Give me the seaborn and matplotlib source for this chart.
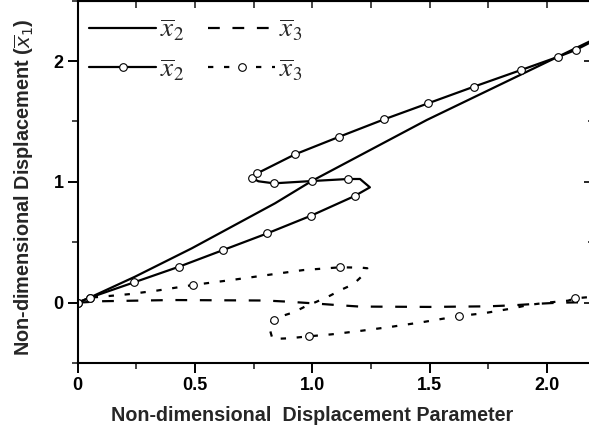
import numpy as np
import pandas as pd
import matplotlib
matplotlib.use("Agg")
import matplotlib.pyplot as plt
from matplotlib.font_manager import FontProperties
from matplotlib.ticker import MultipleLocator, FixedLocator, NullFormatter
import seaborn as sns

# ---------------- data ----------------
# x2 (no markers, solid)
x2a_p = [0.0, 0.06, 0.244, 0.486, 0.841, 0.997, 1.487, 2.2]
x2a_v = [0.0, 0.05, 0.215, 0.45, 0.823, 1.007, 1.512, 2.18]

# x3 (no markers, dashed)
x3a_p = [0.0, 0.05, 0.1, 0.4, 0.8, 0.9, 1.0, 1.1, 1.2, 1.5, 1.75, 1.85, 1.95, 2.05, 2.2]
x3a_v = [0.0, 0.006, 0.012, 0.022, 0.018, 0.008, -0.005, -0.019, -0.032, -0.035, -0.03, -0.022, -0.01, 0.0, 0.005]

# x2 (with markers, solid S-curve)
x2b_p = [0.0, 0.052, 0.241, 0.432, 0.62, 0.808, 0.994, 1.18, 1.245, 1.203, 1.153, 0.997,
         0.836, 0.77, 0.741, 0.765, 0.926, 1.115, 1.306, 1.494, 1.688, 1.889, 2.048, 2.122, 2.2]
x2b_v = [0.0, 0.042, 0.169, 0.298, 0.436, 0.574, 0.72, 0.883, 0.955, 1.024, 1.024, 1.007,
         0.988, 1.005, 1.035, 1.071, 1.228, 1.374, 1.518, 1.651, 1.788, 1.926, 2.036, 2.092, 2.17]
x2b_marks = [0, 1, 2, 3, 4, 5, 6, 7, 10, 11, 12, 14, 15, 16, 17, 18, 19, 20, 21, 22, 23]

# x3 (with markers, dotted S-curve)
x3b_p = [0.0, 0.052, 0.216, 0.337, 0.493, 0.656, 0.841, 0.961, 1.118, 1.21, 1.234,
         1.224, 1.174, 1.127, 1.075, 1.018, 0.968, 0.919, 0.862, 0.836, 0.812, 0.83,
         0.898, 0.987, 1.082, 1.21, 1.338, 1.466, 1.626, 1.728, 1.856, 1.92, 1.998, 2.09, 2.119, 2.2]
x3b_v = [0.0, 0.041, 0.07, 0.1, 0.147, 0.188, 0.238, 0.27, 0.293, 0.29, 0.285,
         0.243, 0.152, 0.111, 0.058, 0.008, -0.033, -0.08, -0.116, -0.143, -0.176, -0.30,
         -0.295, -0.278, -0.262, -0.232, -0.199, -0.162, -0.11, -0.088, -0.046, -0.019, 0.0, 0.017, 0.036, 0.05]
x3b_marks = [0, 1, 4, 8, 19, 23, 28, 34]

legend_labels = [r"$\overline{x}_2$", r"$\overline{x}_2$", r"$\overline{x}_3$", r"$\overline{x}_3$"]
xticks = [0, 0.5, 1.0, 1.5, 2.0]
xticklabels = ["0", "0.5", "1.0", "1.5", "2.0"]
yticks = [0, 1, 2]
yticklabels = ["0", "1", "2"]
xlabel = "Non-dimensional  Displacement Parameter"
ylabel = r"Non-dimensional Displacement ($\overline{x}_1$)"

# ---------------- plot ----------------
sns.set_theme(style="white")
plt.rcParams["font.family"] = ["Liberation Sans", "DejaVu Sans"]

fig = plt.figure(figsize=(5.89, 4.32), dpi=100)
ax = fig.add_axes([0.1319, 0.1595, 0.8766, 0.8389])

lw = 1.6
mk = dict(marker="o", markersize=5.5, markerfacecolor="white",
          markeredgecolor="black", markeredgewidth=0.8)

df_a2 = pd.DataFrame({"p": x2a_p, "v": x2a_v})
df_a3 = pd.DataFrame({"p": x3a_p, "v": x3a_v})
df_b2 = pd.DataFrame({"p": x2b_p, "v": x2b_v})
df_b3 = pd.DataFrame({"p": x3b_p, "v": x3b_v})

sns.lineplot(data=df_a2, x="p", y="v", sort=False, estimator=None, ax=ax,
             color="black", linewidth=lw, linestyle="-")
sns.lineplot(data=df_a3, x="p", y="v", sort=False, estimator=None, ax=ax,
             color="black", linewidth=lw, linestyle=(0, (5.3, 5.7)))
sns.lineplot(data=df_b2, x="p", y="v", sort=False, estimator=None, ax=ax,
             color="black", linewidth=lw, linestyle="-", markevery=x2b_marks, **mk)
sns.lineplot(data=df_b3, x="p", y="v", sort=False, estimator=None, ax=ax,
             color="black", linewidth=lw, linestyle=(0, (2.4, 4.8)), markevery=x3b_marks, **mk)

lines = ax.get_lines()
h_a2, h_a3, h_b2, h_b3 = lines[0], lines[1], lines[2], lines[3]

leg_font = FontProperties(family="DejaVu Serif", size=19.5, math_fontfamily="stix")
leg = ax.legend([h_a2, h_b2, h_a3, h_b3], legend_labels, ncol=2, loc="upper left",
                bbox_to_anchor=(-0.014, 1.008), frameon=False, prop=leg_font,
                handlelength=2.45, handletextpad=0.15, columnspacing=0.9,
                labelspacing=0.45, numpoints=1, borderpad=0.2)

ax.set_xlim(0, 2.2)
ax.set_ylim(-0.5, 2.5)
ax.xaxis.set_major_locator(FixedLocator(xticks))
ax.set_xticklabels(xticklabels)
ax.xaxis.set_minor_locator(MultipleLocator(0.25))
ax.yaxis.set_major_locator(FixedLocator(yticks))
ax.set_yticklabels(yticklabels)
ax.yaxis.set_minor_locator(MultipleLocator(0.5))

ax.tick_params(axis="both", which="major", direction="out", length=7, width=1.4,
               labelsize=13, pad=3, colors="black", bottom=True, left=True)
ax.tick_params(axis="both", which="minor", direction="out", length=4, width=1.2,
               bottom=True, left=True)
for lab in ax.get_xticklabels() + ax.get_yticklabels():
    lab.set_fontweight("bold")

for s in ax.spines.values():
    s.set_linewidth(1.5)
    s.set_color("black")

# top / right inward ticks
secx = ax.secondary_xaxis("top")
secx.xaxis.set_major_locator(MultipleLocator(0.25))
secx.xaxis.set_major_formatter(NullFormatter())
secx.tick_params(direction="in", length=5, width=1.2)
secx.spines["top"].set_linewidth(1.5)
secy = ax.secondary_yaxis("right")
secy.yaxis.set_major_locator(FixedLocator(yticks))
secy.yaxis.set_minor_locator(MultipleLocator(0.5))
secy.yaxis.set_major_formatter(NullFormatter())
secy.tick_params(which="major", direction="in", length=7, width=1.4)
secy.tick_params(which="minor", direction="in", length=4, width=1.2)

ax.set_xlabel(xlabel, fontsize=14.2, fontweight="bold")
ax.xaxis.set_label_coords(0.4538, -0.118)
ax.set_ylabel(ylabel, fontsize=14.3, fontweight="bold")
ax.yaxis.set_label_coords(-0.08, 0.484)

fig.savefig("out.png", dpi=100, facecolor="white")
